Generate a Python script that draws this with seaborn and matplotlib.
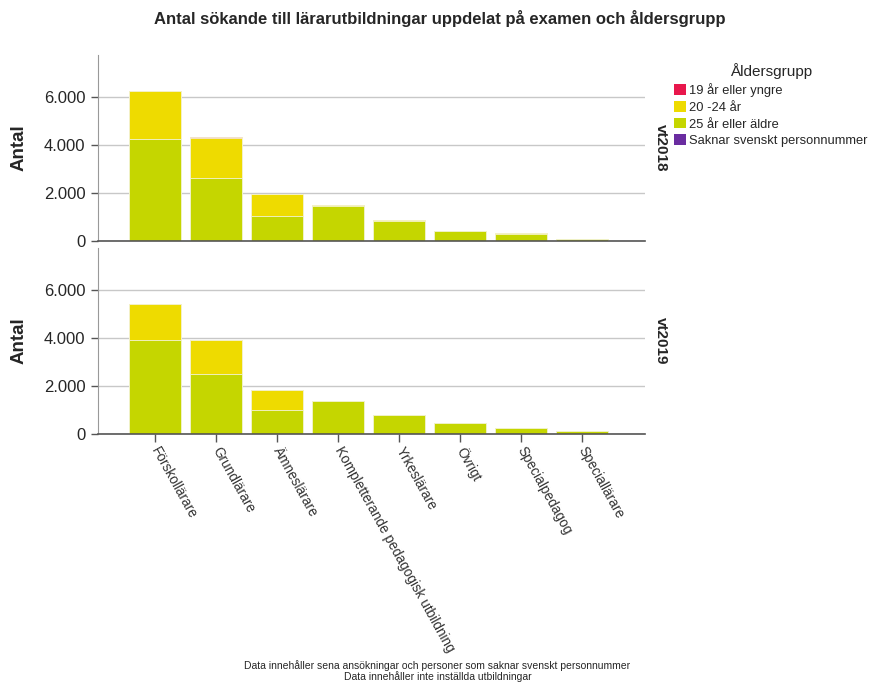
import matplotlib

matplotlib.use("Agg")
import matplotlib.pyplot as plt
import pandas as pd
import seaborn as sns
from matplotlib.patches import Patch
from matplotlib.ticker import FuncFormatter

sns.set_style("white")
plt.rcParams["font.family"] = ["Liberation Sans", "DejaVu Sans"]

# Data
examen = [
    "Förskollärare",
    "Grundlärare",
    "Ämneslärare",
    "Kompletterande pedagogisk utbildning",
    "Yrkeslärare",
    "Övrigt",
    "Specialpedagog",
    "Speciallärare",
]
grupper = ["25 år eller äldre", "20 -24 år", "19 år eller yngre", "Saknar svenskt personnummer"]
legend_order = ["19 år eller yngre", "20 -24 år", "25 år eller äldre", "Saknar svenskt personnummer"]
farger = {
    "19 år eller yngre": "#E8174C",
    "20 -24 år": "#EEDB00",
    "25 år eller äldre": "#C5D600",
    "Saknar svenskt personnummer": "#6A2CA0",
}
terminer = ["vt2018", "vt2019"]

vt2018 = {
    "25 år eller äldre": [4250, 2620, 1020, 1460, 810, 410, 300, 55],
    "20 -24 år": [1990, 1690, 920, 20, 70, 10, 10, 5],
    "19 år eller yngre": [15, 15, 5, 0, 0, 0, 0, 0],
    "Saknar svenskt personnummer": [0, 0, 0, 0, 0, 0, 0, 0],
}
vt2019 = {
    "25 år eller äldre": [3890, 2500, 1015, 1360, 790, 450, 260, 120],
    "20 -24 år": [1520, 1390, 835, 15, 15, 10, 5, 5],
    "19 år eller yngre": [10, 5, 0, 0, 0, 0, 0, 0],
    "Saknar svenskt personnummer": [0, 0, 0, 0, 0, 0, 0, 0],
}

fig = plt.figure(figsize=(8.75, 6.9), dpi=100)
ax_top = fig.add_axes([0.112, 0.651, 0.625, 0.269])
ax_bot = fig.add_axes([0.112, 0.371, 0.625, 0.270])

thousands = FuncFormatter(lambda v, p: f"{int(v):,}".replace(",", "."))

for ax, term, values in [(ax_top, terminer[0], vt2018), (ax_bot, terminer[1], vt2019)]:
    df = pd.DataFrame(values)
    df["examen"] = examen
    cum = df[grupper].cumsum(axis=1)
    # draw cumulative layers from the top down so they look stacked
    for g in reversed(grupper):
        sns.barplot(
            x=examen,
            y=cum[g].values,
            color=farger[g],
            order=examen,
            width=0.85,
            edgecolor="#f4f4d8",
            linewidth=0.6,
            saturation=1,
            ax=ax,
        )
    ax.set_ylim(0, 7750)
    ax.set_xlim(-0.93, 8.03)
    ax.set_yticks([0, 2000, 4000, 6000])
    ax.yaxis.set_major_formatter(thousands)
    ax.yaxis.grid(True, color="#c8c8c8", linewidth=1)
    ax.set_axisbelow(True)
    ax.set_ylabel("Antal", fontsize=13.5, fontweight="bold", labelpad=12)
    ax.set_xlabel("")
    ax.tick_params(axis="y", labelsize=12, length=5, width=1, color="#555555", left=True, pad=4)
    for s in ["top", "right"]:
        ax.spines[s].set_visible(False)
    ax.spines["left"].set_color("#999999")
    ax.spines["bottom"].set_color("#555555")
    ax.spines["bottom"].set_linewidth(1.2)
    ax.text(1.03, 0.5, term, transform=ax.transAxes, rotation=-90,
            ha="center", va="center", fontsize=11, fontweight="bold")

ax_top.tick_params(axis="x", bottom=False, labelbottom=False)
ax_bot.tick_params(axis="x", bottom=True, length=6, width=1, color="#555555", labelsize=9.8, pad=4)
for lab in ax_bot.get_xticklabels():
    lab.set_rotation(-61)
    lab.set_ha("left")
    lab.set_va("center")
    lab.set_rotation_mode("anchor")
    lab.set_color("#333333")

fig.suptitle(
    "Antal sökande till lärarutbildningar uppdelat på examen och åldersgrupp",
    x=0.503, y=0.985, fontsize=12, fontweight="bold",
)

handles = [Patch(facecolor=farger[g], edgecolor="none", label=g) for g in legend_order]
leg = fig.legend(
    handles=handles,
    title="Åldersgrupp",
    loc="upper left",
    bbox_to_anchor=(0.757, 0.925),
    frameon=False,
    fontsize=9.3,
    title_fontsize=11,
    handlelength=0.9,
    handleheight=0.9,
    handletextpad=0.25,
    labelspacing=0.3,
)

fig.text(
    0.5, 0.012,
    "Data innehåller sena ansökningar och personer som saknar svenskt personnummer\n"
    "Data innehåller inte inställda utbildningar",
    ha="center", va="bottom", fontsize=7.5, linespacing=1.0,
)

fig.savefig("out.png", dpi=100)
